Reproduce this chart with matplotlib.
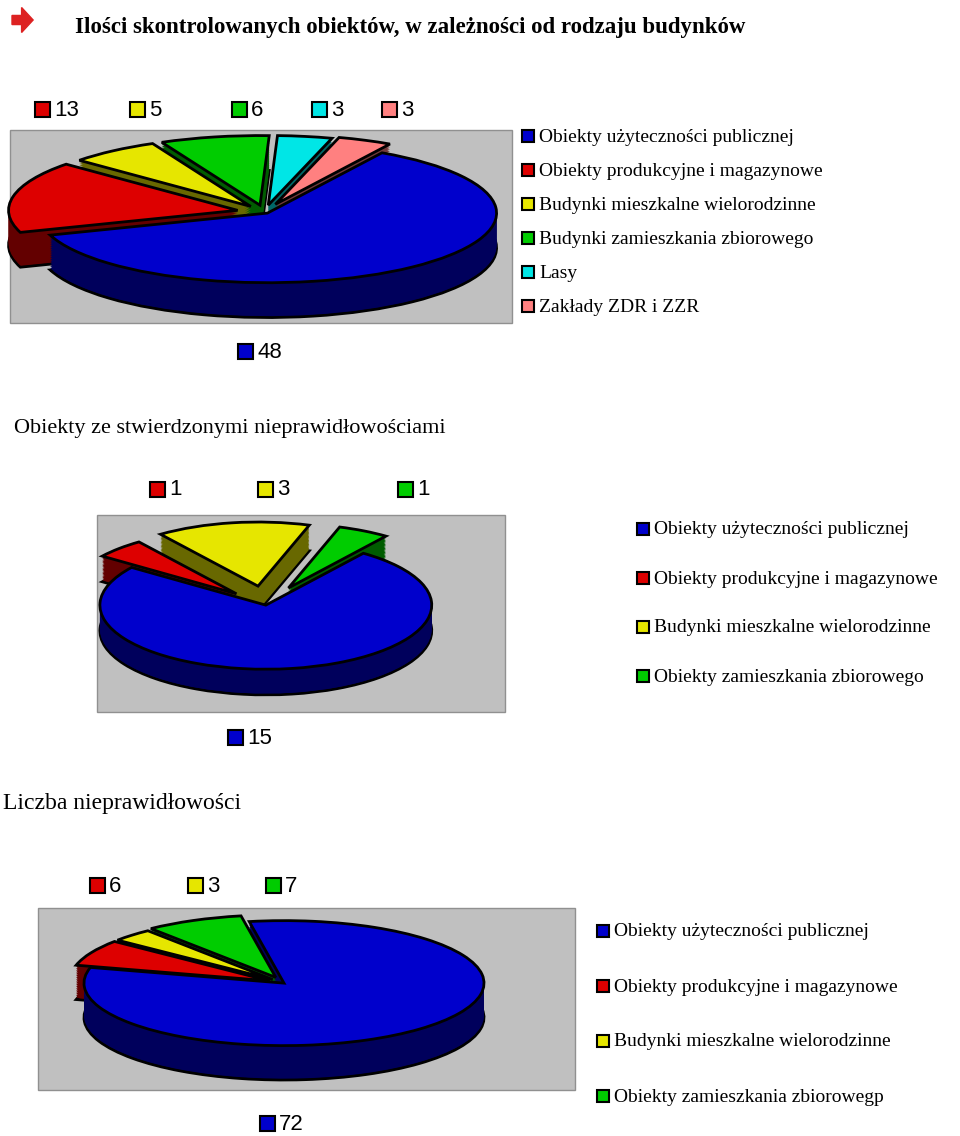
import matplotlib
matplotlib.use("Agg")
import matplotlib.pyplot as plt
import matplotlib.colors as mcolors
from matplotlib.patches import Rectangle, FancyArrow
import numpy as np

W, H = 960, 1136

title = "Ilości skontrolowanych obiektów, w zależności od rodzaju budynków"

labels1 = ["Obiekty użyteczności publicznej", "Obiekty produkcyjne i magazynowe",
           "Budynki mieszkalne wielorodzinne", "Budynki zamieszkania zbiorowego",
           "Lasy", "Zakłady ZDR i ZZR"]
values1 = [48, 13, 5, 6, 3, 3]
colors1 = ["#0000cc", "#dd0000", "#e6e600", "#00cc00", "#00e6e6", "#ff8080"]

title2 = "Obiekty ze stwierdzonymi nieprawidłowościami"
labels2 = ["Obiekty użyteczności publicznej", "Obiekty produkcyjne i magazynowe",
           "Budynki mieszkalne wielorodzinne", "Obiekty zamieszkania zbiorowego"]
values2 = [15, 1, 3, 1]
colors2 = ["#0000cc", "#dd0000", "#e6e600", "#00cc00"]

title3 = "Liczba nieprawidłowości"
labels3 = ["Obiekty użyteczności publicznej", "Obiekty produkcyjne i magazynowe",
           "Budynki mieszkalne wielorodzinne", "Obiekty zamieszkania zbiorowegp"]
values3 = [72, 6, 3, 7]
colors3 = colors2

fig = plt.figure(figsize=(W / 100, H / 100), dpi=100)


def fx(x):
    return x / W


def fy(y):
    return 1 - y / H


def box(x, y, c, s=14):
    fig.add_artist(Rectangle((fx(x), fy(y + s)), s / W, s / H, transform=fig.transFigure,
                             facecolor=c, edgecolor="black", lw=1.5))


def gray(x0, y0, x1, y1):
    fig.add_artist(Rectangle((fx(x0), fy(y1)), (x1 - x0) / W, (y1 - y0) / H,
                             transform=fig.transFigure, facecolor="#c0c0c0",
                             edgecolor="#909090", lw=1, zorder=0))


def pie3d(rect, values, colors, start, explode, depth):
    x0, y0, x1, y1 = rect
    ax = fig.add_axes([fx(x0), fy(y1), (x1 - x0) / W, (y1 - y0) / H])
    dark = [tuple(np.array(mcolors.to_rgb(c)) * 0.45) for c in colors]
    for i, d in enumerate(np.linspace(depth, 0, 20)):
        edge = "black" if i == 0 else "none"
        ax.pie(values, colors=dark, startangle=start, counterclock=False,
               explode=explode, center=(0, -d),
               wedgeprops=dict(edgecolor=edge, linewidth=2))
    ax.pie(values, colors=colors, startangle=start, counterclock=False,
           explode=explode, wedgeprops=dict(edgecolor="black", linewidth=2))
    ax.set_aspect("auto")
    ax.set_xlim(-1.12, 1.08)
    ax.set_ylim(-1.08 - depth, 1.25)
    ax.axis("off")


def legend(x, ys, labels, colors, size=14):
    for y, lab, c in zip(ys, labels, colors):
        box(x, y - 7, c, 12)
        fig.text(fx(x + 17), fy(y), lab, fontsize=size, family="Liberation Serif",
                 va="center")


def numlabel(x, y, c, v):
    box(x, y - 8, c, 15)
    fig.text(fx(x + 19), fy(y), str(v), fontsize=16, family="Liberation Sans",
             va="center")


# nagłówek
fig.add_artist(FancyArrow(fx(12), fy(20), 0.022, 0, width=0.008, head_width=0.022,
                          head_length=0.012, transform=fig.transFigure,
                          color="#dd2222", length_includes_head=True))
fig.text(fx(75), fy(28), title, fontsize=16.5, fontweight="bold",
         family="Liberation Serif", va="center")

# wykres 1
gray(10, 130, 512, 323)
pie3d((8, 125, 512, 322), values1, colors1, 60, [0.02, 0.12, 0.1, 0.1, 0.1, 0.12], 0.5)
for (x, c, v) in zip([35, 130, 232, 312, 382], colors1[1:], values1[1:]):
    numlabel(x, 110, c, v)
numlabel(238, 352, colors1[0], values1[0])
legend(522, [137 + 34 * i for i in range(6)], labels1, colors1, 14)

# wykres 2
fig.text(fx(14), fy(428), title2, fontsize=16, family="Liberation Serif", va="center")
gray(97, 515, 505, 712)
pie3d((80, 525, 445, 700), values2, colors2, 54, [0.0, 0.25, 0.3, 0.3], 0.4)
for (x, c, v) in zip([150, 258, 398], colors2[1:], values2[1:]):
    numlabel(x, 490, c, v)
numlabel(228, 738, colors2[0], values2[0])
legend(637, [530 + 49 * i for i in range(4)], labels2, colors2, 14)

# wykres 3
fig.text(fx(3), fy(803), title3, fontsize=17, family="Liberation Serif", va="center")
gray(38, 908, 575, 1090)
pie3d((60, 905, 500, 1085), values3, colors3, 100, [0.0, 0.08, 0.08, 0.1], 0.55)
for (x, c, v) in zip([90, 188, 266], colors3[1:], values3[1:]):
    numlabel(x, 886, c, v)
numlabel(260, 1124, colors3[0], values3[0])
legend(597, [932 + 55 * i for i in range(4)], labels3, colors3, 14)

fig.savefig("out.png", dpi=100)
